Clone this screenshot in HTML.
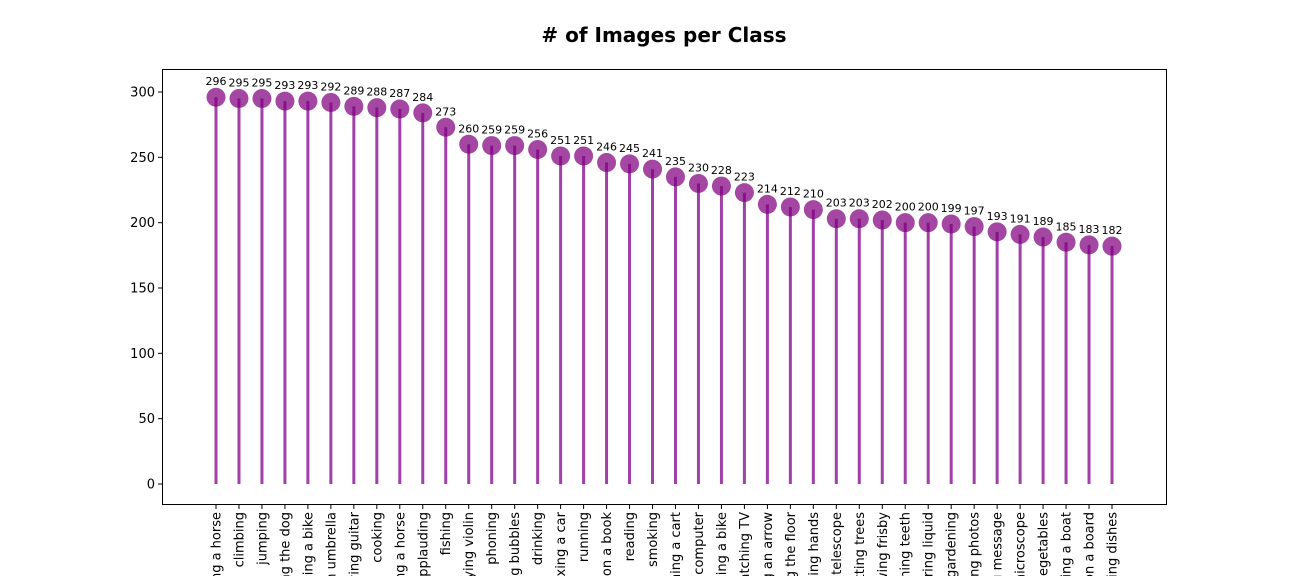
<!DOCTYPE html>
<html><head><meta charset="utf-8"><style>
html,body{margin:0;background:#fff;width:1296px;height:576px;overflow:hidden;}
svg{display:block;font-family:"DejaVu Sans","Liberation Sans",sans-serif;}
</style></head><body>
<svg id="chart" width="1296" height="576">
<text x="664" y="42" text-anchor="middle" font-size="20" font-weight="bold"># of Images per Class</text>
<rect x="162.5" y="69.5" width="1004" height="435" fill="none" stroke="#000" stroke-width="1"/>
<g id="marks"></g>
</svg>
<script>
const categories=["riding a horse","climbing","jumping","walking the dog","riding a bike","holding an umbrella","playing guitar","cooking","feeding a horse","applauding","fishing","playing violin","phoning","blowing bubbles","drinking","fixing a car","running","writing on a book","reading","smoking","pushing a cart","using a computer","fixing a bike","watching TV","shooting an arrow","cleaning the floor","shaking hands","looking through a telescope","cutting trees","throwing frisby","brushing teeth","pouring liquid","gardening","taking photos","texting message","looking through a microscope","cutting vegetables","rowing a boat","writing on a board","washing dishes"];
const counts=[296,295,295,293,293,292,289,288,287,284,273,260,259,259,256,251,251,246,245,241,235,230,228,223,214,212,210,203,203,202,200,200,199,197,193,191,189,185,183,182];
const yTicks=[0,50,100,150,200,250,300];
const NS="http://www.w3.org/2000/svg";
const g=document.getElementById('marks');
const x=i=>216+i*(1112-216)/(categories.length-1);
const y=v=>484-v*(484-92)/300;
function mk(t,a){const e=document.createElementNS(NS,t);for(const k in a)e.setAttribute(k,a[k]);g.appendChild(e);return e;}
yTicks.forEach(v=>{
  const l=mk('line',{x1:158,x2:162,y1:y(v),y2:y(v),stroke:'#000'});
  
  
  const t=mk('text',{x:155,y:y(v)+4.5,'text-anchor':'end','font-size':13});
  t.textContent=v;
  
  
});
categories.forEach((c,i)=>{
  const xi=x(i),v=counts[i];
  const s=mk('line',{x1:xi,x2:xi,y1:y(0),y2:y(v),stroke:'#a040a8','stroke-width':3});
  
  
  const p=mk('circle',{cx:xi,cy:y(v),r:9.5,fill:'#800080','fill-opacity':0.72});
  
  
  const a=mk('text',{x:xi,y:y(v)-12,'text-anchor':'middle','font-size':11});
  a.textContent=v;
  
  
  const tk=mk('line',{x1:xi,x2:xi,y1:505,y2:509,stroke:'#000'});
  
  
  const t=mk('text',{transform:`translate(${xi+4.5},512) rotate(-90)`,'text-anchor':'end','font-size':13});
  t.textContent=c;
  
  
});
</script>
</body></html>
